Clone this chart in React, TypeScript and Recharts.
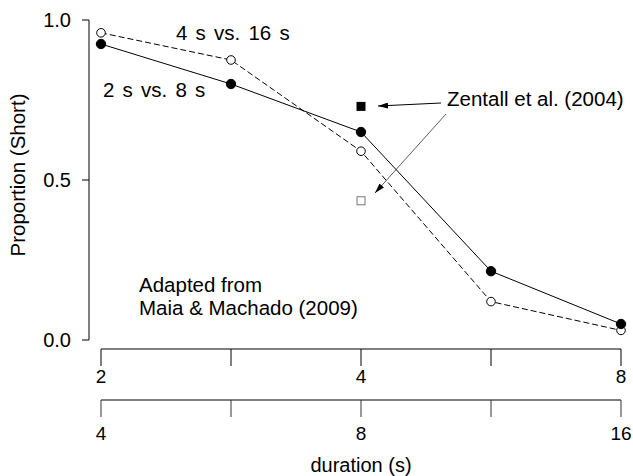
import { ComposedChart, Line, Scatter, XAxis, YAxis } from 'recharts'

// x positions on a log2 scale of the short-pair duration (2, 2.83, 4, 5.66, 8)
const positions = [1, 1.5, 2, 2.5, 3]
const topTickLabels = ['2', '', '4', '', '8']
const bottomTickLabels = ['4', '', '8', '', '16']
const short2v8 = [0.925, 0.8, 0.65, 0.215, 0.05]
const short4v16 = [0.96, 0.875, 0.59, 0.12, 0.03]
const yTicks = [0, 0.5, 1]

const zentallPos = [2]
const zentallFilled = [0.73]
const zentallOpen = [0.435]

const data = positions.map((pos, i) => ({ pos, a: short2v8[i], b: short4v16[i] }))
const zFilled = zentallPos.map((pos, i) => ({ pos, z: zentallFilled[i] }))
const zOpen = zentallPos.map((pos, i) => ({ pos, z: zentallOpen[i] }))

const FONT = '"Liberation Sans", Arial, sans-serif'

const FilledSquare = (p: any) => <rect x={p.cx - 4.5} y={p.cy - 4.5} width={9} height={9} fill="#000" />
const OpenSquare = (p: any) => (
  <rect x={p.cx - 4} y={p.cy - 4} width={8} height={8} fill="#fff" stroke="#777" strokeWidth={1} />
)

export default function App() {
  return (
    <div style={{ position: 'relative', width: 633, height: 476, fontFamily: FONT }}>
      <style>{`
        body { margin: 0; }
        .recharts-yAxis { transform: translateX(-12px); }
        .recharts-xAxis { transform: translateY(9px); }
      `}</style>
      <ComposedChart width={633} height={476} data={data} margin={{ top: 20, right: 12, left: 0, bottom: 0 }}>
        <XAxis
          xAxisId="a1"
          dataKey="pos"
          type="number"
          domain={[1, 3]}
          ticks={positions}
          tickFormatter={(v: number) => topTickLabels[positions.indexOf(v)] ?? ''}
          height={51}
          tickSize={17}
          tickMargin={4}
          axisLine={{ stroke: '#000' }}
          tickLine={{ stroke: '#000' }}
          tick={{ fontSize: 19, fill: '#000', fontFamily: FONT, dy: 9 }}
          interval={0}
        />
        <XAxis
          xAxisId="b2"
          dataKey="pos"
          type="number"
          domain={[1, 3]}
          ticks={positions}
          tickFormatter={(v: number) => bottomTickLabels[positions.indexOf(v)] ?? ''}
          height={85}
          tickSize={17}
          tickMargin={10}
          axisLine={{ stroke: '#808080', strokeWidth: 2 }}
          tickLine={{ stroke: '#333' }}
          tick={{ fontSize: 19, fill: '#000', fontFamily: FONT, dy: 9 }}
          interval={0}
          label={{ value: 'duration (s)', position: 'insideBottom', offset: 4, fontSize: 20, fill: '#000', fontFamily: FONT }}
        />
        <YAxis
          type="number"
          domain={[0, 1]}
          ticks={yTicks}
          width={101}
          tickSize={7}
          tickMargin={9}
          tickFormatter={(v: number) => v.toFixed(1)}
          axisLine={{ stroke: '#000' }}
          tickLine={{ stroke: '#000' }}
          tick={{ fontSize: 20, fill: '#000', fontFamily: FONT, dx: -14 }}
        />
        <Line
          xAxisId="a1"
          dataKey="b"
          stroke="#000"
          strokeWidth={1}
          strokeDasharray="6 3"
          isAnimationActive={false}
          dot={{ r: 4.3, fill: '#fff', stroke: '#000', strokeWidth: 1, strokeDasharray: '' }}
          activeDot={false}
        />
        <Line
          xAxisId="a1"
          dataKey="a"
          stroke="#000"
          strokeWidth={1}
          isAnimationActive={false}
          dot={{ r: 4.7, fill: '#000', stroke: '#000', strokeWidth: 1 }}
          activeDot={false}
        />
        <Scatter xAxisId="a1" data={zFilled} dataKey="z" shape={FilledSquare} isAnimationActive={false} />
        <Scatter xAxisId="a1" data={zOpen} dataKey="z" shape={OpenSquare} isAnimationActive={false} />
      </ComposedChart>
      <svg
        width={633}
        height={476}
        style={{ position: 'absolute', left: 0, top: 0, pointerEvents: 'none' }}
        fontFamily={FONT}
      >
        <defs>
          <marker id="ah" viewBox="0 0 10 6" refX="10" refY="3" markerWidth="10" markerHeight="6" markerUnits="userSpaceOnUse" orient="auto">
            <path d="M0,0 L10,3 L0,6 Z" fill="#000" />
          </marker>
        </defs>
        <text x={24.5} y={175} fontSize={20.5} textAnchor="middle" transform="rotate(-90 24.5 175)">
          Proportion (Short)
        </text>
        <text x={176} y={40} fontSize={20.5} wordSpacing={2.5}>4 s vs. 16 s</text>
        <text x={103} y={96.5} fontSize={20.5} wordSpacing={2.5}>2 s vs. 8 s</text>
        <text x={447} y={106} fontSize={20.5}>Zentall et al. (2004)</text>
        <text x={139} y={292} fontSize={20.5}>Adapted from</text>
        <text x={139} y={315} fontSize={20.5}>Maia &amp; Machado (2009)</text>
        <line x1={441} y1={103} x2={378} y2={106} stroke="#000" strokeWidth={1} markerEnd="url(#ah)" />
        <line x1={446} y1={114} x2={375} y2={193} stroke="#333" strokeWidth={0.8} markerEnd="url(#ah)" />
      </svg>
    </div>
  )
}
